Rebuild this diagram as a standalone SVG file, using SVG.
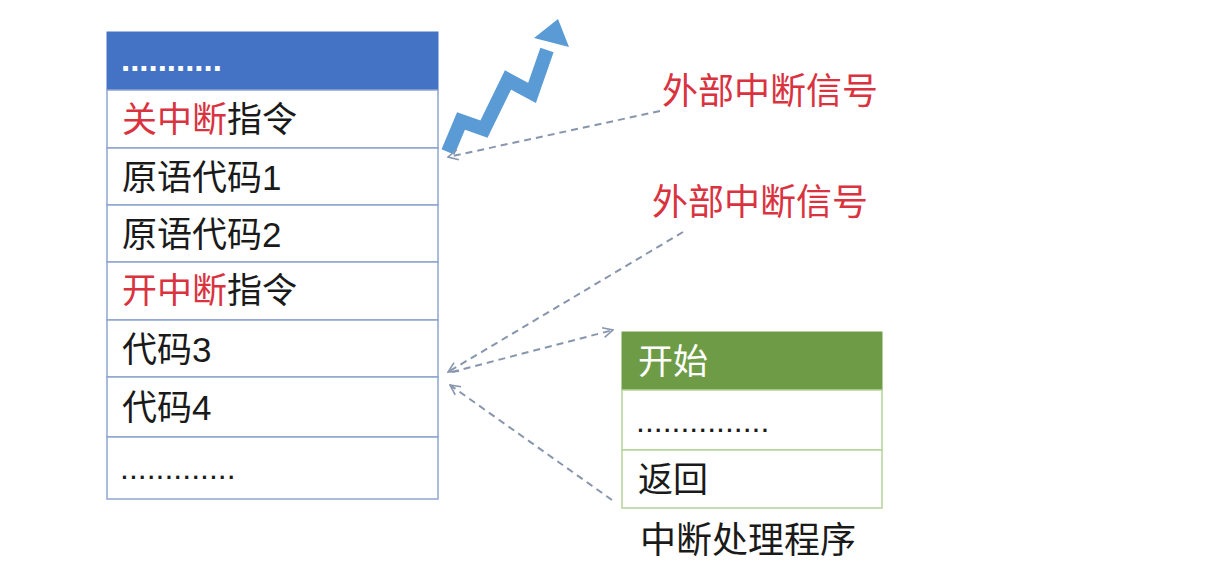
<svg xmlns="http://www.w3.org/2000/svg" width="1218" height="580" viewBox="0 0 1218 580">
<style>
.t{font-family:"Liberation Sans","Noto Sans CJK SC",sans-serif;font-size:35px;fill:#1a1a1a}
.big{font-size:36px}
.dots{font-size:32px}
.r{fill:#d9333f}
.w{fill:#ffffff}
.cell{fill:#ffffff;stroke:#8ea5cf;stroke-width:1.5}
.gcell{fill:#ffffff;stroke:#b5d39b;stroke-width:1.5}
.dash{fill:none;stroke:#8796ad;stroke-width:2;stroke-dasharray:7 5}
</style>
<defs>
<marker id="ah" viewBox="0 0 12 12" refX="11" refY="6" markerWidth="12" markerHeight="12" markerUnits="userSpaceOnUse" orient="auto-start-reverse">
<path d="M1,1 L11,6 L1,11" fill="none" stroke="#8796ad" stroke-width="1.6"/>
</marker>
</defs>
<rect width="1218" height="580" fill="#ffffff"/>
<g id="left-table">
<rect x="107" y="32" width="331" height="58" fill="#4472c4" stroke="#4472c4"/>
<text class="t w" x="121" y="71" style="font-size:33px;font-weight:bold">...........</text>
<rect class="cell" x="107" y="90" width="331" height="58"/>
<text class="t" x="122" y="132"><tspan class="r">关中断</tspan>指令</text>
<rect class="cell" x="107" y="148" width="331" height="57"/>
<text class="t" x="122" y="190">原语代码1</text>
<rect class="cell" x="107" y="205" width="331" height="57"/>
<text class="t" x="122" y="247">原语代码2</text>
<rect class="cell" x="107" y="262" width="331" height="58"/>
<text class="t" x="122" y="303"><tspan class="r">开中断</tspan>指令</text>
<rect class="cell" x="107" y="320" width="331" height="57"/>
<text class="t" x="122" y="362">代码3</text>
<rect class="cell" x="107" y="377" width="331" height="60"/>
<text class="t" x="122" y="420">代码4</text>
<rect class="cell" x="107" y="437" width="331" height="62"/>
<text class="t dots" x="120" y="479">.............</text>
</g>
<g id="zigzag">
<polyline points="448,152 461,121 484,129 508,80 532,93 547,50" fill="none" stroke="#5b9bd5" stroke-width="14" stroke-linejoin="miter"/>
<polygon points="558,19 534,38 569,47" fill="#5b9bd5"/>
</g>
<g id="label1"><text class="t r big" x="662" y="104">外部中断信号</text></g>
<g id="label2"><text class="t r big" x="652" y="215">外部中断信号</text></g>
<g id="right-table">
<rect x="622" y="332" width="260" height="58" fill="#6e9c46" stroke="#6e9c46"/>
<text class="t w" x="638" y="374">开始</text>
<rect class="gcell" x="622" y="390" width="260" height="60"/>
<text class="t dots" x="636" y="432">...............</text>
<rect class="gcell" x="622" y="450" width="260" height="58"/>
<text class="t" x="638" y="492">返回</text>
</g>
<g id="caption"><text class="t big" x="640" y="553">中断处理程序</text></g>
<g id="connectors">
<line class="dash" x1="660" y1="111" x2="448" y2="157" marker-end="url(#ah)"/>
<line class="dash" x1="683" y1="232" x2="448" y2="372" marker-end="url(#ah)"/>
<line class="dash" x1="452" y1="372" x2="613" y2="330" marker-end="url(#ah)"/>
<line class="dash" x1="612" y1="500" x2="450" y2="385" marker-end="url(#ah)"/>
</g>
</svg>
